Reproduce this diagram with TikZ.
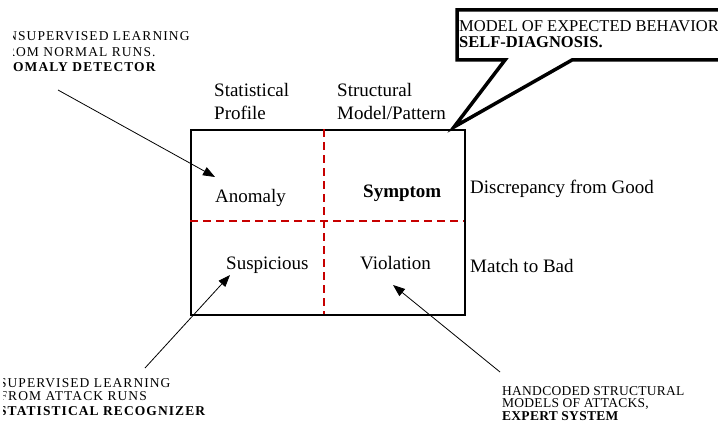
\documentclass[tikz,border=0pt]{standalone}
\usepackage{fontspec}
\setmainfont{Liberation Serif}
\newfontfamily\capsfont[LetterSpace=8]{Liberation Serif}
\newfontfamily\capsnarrow[LetterSpace=2]{Liberation Serif}
\usetikzlibrary{arrows.meta}

\begin{document}
\begin{tikzpicture}[x=1pt, y=-1pt,
  lbl/.style={font=\fontsize{19}{21}\selectfont, inner sep=0pt, anchor=base west},
  note/.style={font=\capsfont\fontsize{13.5}{15}\selectfont, inner sep=0pt, anchor=base west},
  notebold/.style={note, font=\capsfont\fontsize{13.5}{15}\selectfont\bfseries},
  rnote/.style={font=\capsnarrow\fontsize{13.5}{15}\selectfont, inner sep=0pt, anchor=base west},
  rnotebold/.style={rnote, font=\capsnarrow\fontsize{13.5}{15}\selectfont\bfseries},
  calltext/.style={font=\fontsize{16.5}{19}\selectfont, inner sep=0pt, anchor=base west},
  divider/.style={draw=red!78!black, line width=1.8pt, dash pattern=on 8pt off 5pt},
  pointer/.style={-{Triangle[length=12pt,width=9pt]}, line width=0.8pt},
  callout/.style={draw, fill=white, line width=3.5pt, line join=miter},
  gridbox/.style={draw, line width=2pt, inner sep=0pt, anchor=north west,
    minimum width=274pt, minimum height=185pt}]

\useasboundingbox (0,0) rectangle (718,428);
\clip (0,0) rectangle (718,428);

% the 2x2 classification grid
\node[gridbox] (grid) at (190,129) {};
\coordinate (vtop) at (324,129);
\coordinate (vbot) at (324,314);
\coordinate (hleft) at (190,221);
\coordinate (hright) at (464,221);
\draw[divider] (vtop) -- (vbot);
\draw[divider] (hleft) -- (hright);

% column headings
\node[lbl] (stat) at (214,96) {Statistical};
\node[lbl] (prof) at (214,119) {Profile};
\node[lbl] (struct) at (337,96) {Structural};
\node[lbl] (model) at (337,119) {Model/Pattern};

% cells
\node[lbl] (anomaly) at (215,202) {Anomaly};
\node[lbl, font=\fontsize{19}{21}\selectfont\bfseries] (symptom) at (363,197) {Symptom};
\node[lbl] (suspicious) at (226,269) {Suspicious};
\node[lbl] (violation) at (360,269) {Violation};

% row headings
\node[lbl] (good) at (470,193) {Discrepancy from Good};
\node[lbl] (bad) at (470,272) {Match to Bad};

% speech-bubble callout
\coordinate (ctl) at (457,10);
\coordinate (ctr) at (740,10);
\coordinate (cbr) at (740,60);
\coordinate (cr) at (572,60);
\coordinate (tip) at (454,127);
\coordinate (cl) at (505,60);
\coordinate (cbl) at (457,60);
\draw[callout] (ctl) -- (ctr) -- (cbr) -- (cr) -- (tip) -- (cl) -- (cbl) -- cycle;
\node[calltext] (mexp) at (459,32) {MODEL OF EXPECTED BEHAVIOR};
\node[calltext, font=\fontsize{16.5}{19}\selectfont\bfseries] (selfd) at (459,48) {SELF-DIAGNOSIS.};

% top-left note, trimmed at its left edge
\begin{scope}
  \clip (13,0) rectangle (200,80);
  \node[note] (tl1) at (-3.7,41) {UNSUPERVISED LEARNING};
  \node[note] (tl2) at (-2.7,57) {FROM NORMAL RUNS.};
  \node[notebold] (tl3) at (-8.7,72) {ANOMALY DETECTOR};
\end{scope}

% bottom-left note, trimmed at its left edge
\begin{scope}
  \clip (3,370) rectangle (230,428);
  \node[note] (bl1) at (-1.1,387) {SUPERVISED LEARNING};
  \node[note] (bl2) at (-0.6,400) {FROM ATTACK RUNS};
  \node[notebold] (bl3) at (-1.1,415) {STATISTICAL RECOGNIZER};
\end{scope}

% bottom-right note
\node[rnote] (br1) at (502,395) {HANDCODED STRUCTURAL};
\node[rnote] (br2) at (502,407) {MODELS OF ATTACKS,};
\node[rnotebold] (br3) at (502,420) {EXPERT SYSTEM};

% pointers from the notes into the grid
\coordinate (p1s) at (58,90);
\coordinate (p1e) at (215,177);
\coordinate (p2s) at (145,368);
\coordinate (p2e) at (230,275);
\coordinate (p3s) at (500,372);
\coordinate (p3e) at (393,285);
\draw[pointer] (p1s) -- (p1e);
\draw[pointer] (p2s) -- (p2e);
\draw[pointer] (p3s) -- (p3e);
\end{tikzpicture}
\end{document}
